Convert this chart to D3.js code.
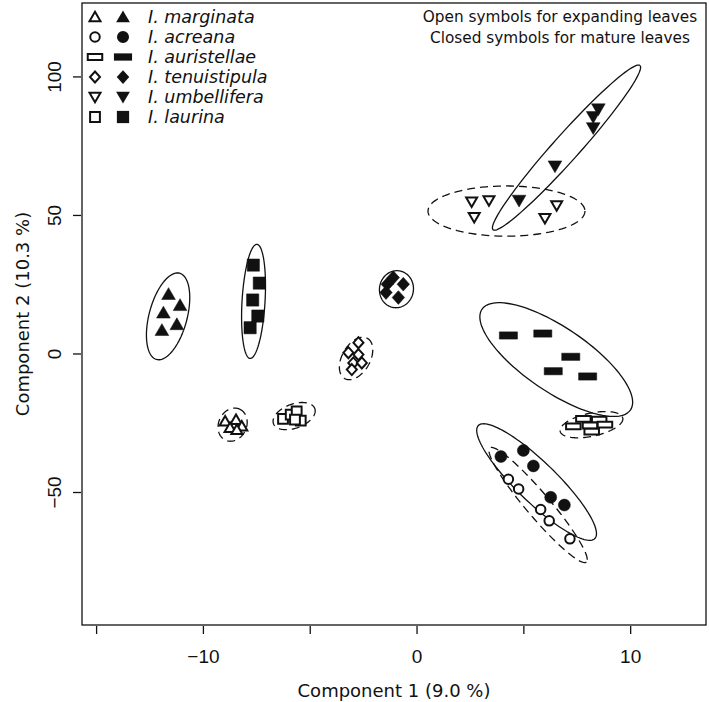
<!DOCTYPE html>
<html><head><meta charset="utf-8">
<script src="https://cdn.jsdelivr.net/npm/d3@7"></script>
<style>body{margin:0;background:#fff}</style>
</head><body>
<svg id="chart" width="709" height="702"></svg>
<script>
// ---------------- DATA ----------------
const species = ["I. marginata","I. acreana","I. auristellae","I. tenuistipula","I. umbellifera","I. laurina"];
const shapes  = ["tri","circle","rect","diamond","triDown","square"];

// [Component 1, Component 2] points, open = expanding, closed = mature
const marginataOpen   = [[-8.96,-24.5],[-8.45,-23.9],[-8.73,-26.8],[-8.18,-26.3],[-8.41,-27.5]];
const marginataClosed = [[-11.61,21.4],[-11.07,17.4],[-11.85,14.7],[-11.22,10.5],[-11.92,8.4]];
const acreanaOpen     = [[4.30,-45.4],[4.78,-48.9],[5.81,-56.3],[6.21,-60.4],[7.18,-66.9]];
const acreanaClosed   = [[3.95,-37.2],[5.00,-35.0],[5.47,-40.6],[6.28,-51.9],[6.92,-54.7]];
const auristellaeOpen   = [[7.81,-23.6],[8.55,-23.9],[7.34,-26.3],[8.12,-26.0],[8.82,-25.7],[8.20,-28.2]];
const auristellaeClosed = [[4.30,6.5],[5.91,7.2],[7.22,-1.2],[6.40,-6.4],[8.01,-8.3]];
const tenuistipulaOpen   = [[-2.72,3.9],[-3.19,0.3],[-2.72,-0.4],[-2.96,-3.4],[-2.56,-3.4],[-3.03,-5.8]];
const tenuistipulaClosed = [[-1.09,27.4],[-1.37,25.0],[-0.62,25.0],[-1.43,22.0],[-0.85,20.2]];
const umbelliferaOpen   = [[2.58,54.8],[3.39,55.2],[2.70,49.2],[6.56,53.4],[6.01,48.8]];
const umbelliferaClosed = [[8.51,88.2],[8.27,85.4],[8.27,81.4],[6.48,67.6],[4.80,55.2]];
const laurinaOpen   = [[-6.25,-23.6],[-5.89,-22.1],[-5.61,-20.9],[-5.42,-24.2],[-5.69,-23.9]];
const laurinaClosed = [[-7.64,31.9],[-7.36,25.4],[-7.67,19.3],[-7.43,13.5],[-7.79,9.3]];

// ellipses: [centre x, centre y, axis1 x, axis1 y, axis2 x, axis2 y] in data units
const ellMarginataOpen   = [-8.61,-25.7, 0.336,5.58, 0.594,-2.14];
const ellMarginataClosed = [-11.63,13.4, 0.539,15.57, 0.859,-1.78];
const ellAcreanaOpen     = [5.69,-54.7, 2.262,-20.60, -0.428,-2.82];
const ellAcreanaClosed   = [5.62,-46.4, 2.727,-20.39, -0.650,-5.21];
const ellAuristellaeOpen   = [8.19,-25.7, 1.465,2.41, 0.112,-4.08];
const ellAuristellaeClosed = [6.54,-2.2, 3.477,-18.15, -0.837,-9.61];
const ellTenuistipulaOpen   = [-2.83,-1.8, 0.538,7.22, 0.567,-2.54];
const ellTenuistipulaClosed = [-0.94,23.2, 0.150,6.60, 0.783,-1.07];
const ellUmbelliferaOpen   = [4.21,51.4, 3.673,0, 0,-9.06];
const ellUmbelliferaClosed = [7.02,74.3, 3.439,29.64, 0.453,-3.15];
const ellLaurinaOpen   = [-5.73,-22.6, 0.967,2.73, 0.192,-4.09];
const ellLaurinaClosed = [-7.63,18.8, 0.158,20.6, 0.537,-0.25];

const xTicks = [-15,-10,-5,0,5,10];
const xTickLabels = ["","\u221210","","0","","10"];
const yTicks = [-50,0,50,100];
const yTickLabels = ["\u221250","0","50","100"];
const xTitle = "Component 1 (9.0 %)";
const yTitle = "Component 2 (10.3 %)";
const noteLines = ["Open symbols for expanding leaves","Closed symbols for mature leaves"];

// ---------------- CHART ----------------
const svg = d3.select("#chart");
const L = 82, R = 706, T = 3, B = 625;
const x = d3.scaleLinear().domain([-15.66, 13.55]).range([L, R]);
const y = d3.scaleLinear().domain([-98, 126.5]).range([B, T]);

function shapePath(type, s) {
  const h = s/2;
  switch (type) {
    case "tri": return `M0,${-h*1.05}L${h*1.1},${h*0.85}L${-h*1.1},${h*0.85}Z`;
    case "triDown": return `M0,${h*1.05}L${h*1.1},${-h*0.85}L${-h*1.1},${-h*0.85}Z`;
    case "circle": return d3.arc()({innerRadius:0,outerRadius:h*0.95,startAngle:0,endAngle:2*Math.PI});
    case "rect": return `M${-h*1.45},${-h*0.58}h${h*2.9}v${h*1.16}h${-h*2.9}Z`;
    case "diamond": return `M0,${-h*1.1}L${h*1.0},0L0,${h*1.1}L${-h*1.0},0Z`;
    case "square": return `M${-h*0.98},${-h*0.98}h${h*1.96}v${h*1.96}h${-h*1.96}Z`;
  }
}

const groups = [
  {sp:0, open:marginataOpen, closed:marginataClosed, eo:ellMarginataOpen, ec:ellMarginataClosed},
  {sp:1, open:acreanaOpen, closed:acreanaClosed, eo:ellAcreanaOpen, ec:ellAcreanaClosed},
  {sp:2, open:auristellaeOpen, closed:auristellaeClosed, eo:ellAuristellaeOpen, ec:ellAuristellaeClosed},
  {sp:3, open:tenuistipulaOpen, closed:tenuistipulaClosed, eo:ellTenuistipulaOpen, ec:ellTenuistipulaClosed},
  {sp:4, open:umbelliferaOpen, closed:umbelliferaClosed, eo:ellUmbelliferaOpen, ec:ellUmbelliferaClosed},
  {sp:5, open:laurinaOpen, closed:laurinaClosed, eo:ellLaurinaOpen, ec:ellLaurinaClosed}
];

function ellipsePts(e) {
  return d3.range(0, 121).map(i => {
    const t = i / 120 * 2 * Math.PI;
    return [x(e[0] + e[2]*Math.cos(t) + e[4]*Math.sin(t)), y(e[1] + e[3]*Math.cos(t) + e[5]*Math.sin(t))];
  });
}
const line = d3.line();

const gE = svg.append("g");
groups.forEach(g => {
  gE.append("path").attr("d", line(ellipsePts(g.ec))).attr("fill","none")
    .attr("stroke","#111").attr("stroke-width",1.3);
  gE.append("path").attr("d", line(ellipsePts(g.eo))).attr("fill","none")
    .attr("stroke","#111").attr("stroke-width",1.3).attr("stroke-dasharray","8,5");
});

const gP = svg.append("g");
groups.forEach(g => {
  const sh = shapes[g.sp];
  g.closed.forEach(p => {
    gP.append("path").attr("d", shapePath(sh, 12.5)).attr("transform",`translate(${x(p[0])},${y(p[1])})`)
      .attr("fill","#111").attr("stroke","#111").attr("stroke-width",0.5);
  });
  g.open.forEach(p => {
    gP.append("path").attr("d", shapePath(sh, 10)).attr("transform",`translate(${x(p[0])},${y(p[1])})`)
      .attr("fill","#fff").attr("stroke","#111").attr("stroke-width",2);
  });
});

// box
svg.append("rect").attr("x",L).attr("y",T).attr("width",R-L).attr("height",B-T)
  .attr("fill","none").attr("stroke","#111").attr("stroke-width",1.3);

const tickFont = "'Liberation Sans Narrow','Liberation Sans',Arial,sans-serif";
// axes
const xAxis = d3.axisBottom(x).tickValues(xTicks).tickSize(8).tickPadding(16)
  .tickFormat((d,i) => xTickLabels[i]);
const gx = svg.append("g").attr("transform",`translate(0,${B+1})`).call(xAxis);
gx.select(".domain").remove();
gx.selectAll("line").attr("stroke","#111").attr("stroke-width",1.3);
gx.selectAll("text").attr("font-family",tickFont).attr("font-size",19).attr("fill","#111");

const yAxis = d3.axisLeft(y).tickValues(yTicks).tickSize(8).tickPadding(10)
  .tickFormat((d,i) => yTickLabels[i]);
const gy = svg.append("g").attr("transform",`translate(${L-1},0)`).call(yAxis);
gy.select(".domain").remove();
gy.selectAll("line").attr("stroke","#111").attr("stroke-width",1.3);
gy.selectAll("text").attr("font-family",tickFont).attr("font-size",19).attr("fill","#111")
  .attr("text-anchor","middle").attr("dy",0).attr("x",0)
  .attr("transform","translate(-20,0) rotate(-90)");

// titles
svg.append("text").attr("x",(L+R)/2).attr("y",697).attr("text-anchor","middle")
  .attr("font-family","'DejaVu Sans',Verdana,sans-serif").attr("font-size",18).attr("fill","#111").text(xTitle);
svg.append("text").attr("transform",`translate(29,${(T+B)/2}) rotate(-90)`).attr("text-anchor","middle")
  .attr("font-family","'DejaVu Sans',Verdana,sans-serif").attr("font-size",18).attr("fill","#111").text(yTitle);

// legend
const lg = svg.append("g");
species.forEach((s,i) => {
  const cy = 17 + i*20;
  lg.append("path").attr("d", shapePath(shapes[i], 10)).attr("transform",`translate(95,${cy})`)
    .attr("fill","#fff").attr("stroke","#111").attr("stroke-width",2);
  lg.append("path").attr("d", shapePath(shapes[i], 12.5)).attr("transform",`translate(123,${cy})`)
    .attr("fill","#111");
  lg.append("text").attr("x",148).attr("y",cy+6).attr("font-family","'DejaVu Sans',Verdana,sans-serif")
    .attr("font-style","italic").attr("font-size",17.5).attr("fill","#111").text(s);
});

// note
noteLines.forEach((t,i) => {
  svg.append("text").attr("x",560).attr("y",22 + i*21).attr("text-anchor","middle")
    .attr("font-family","'DejaVu Sans',Verdana,sans-serif").attr("font-size",15.3).attr("fill","#111").text(t);
});
</script>
</body></html>
